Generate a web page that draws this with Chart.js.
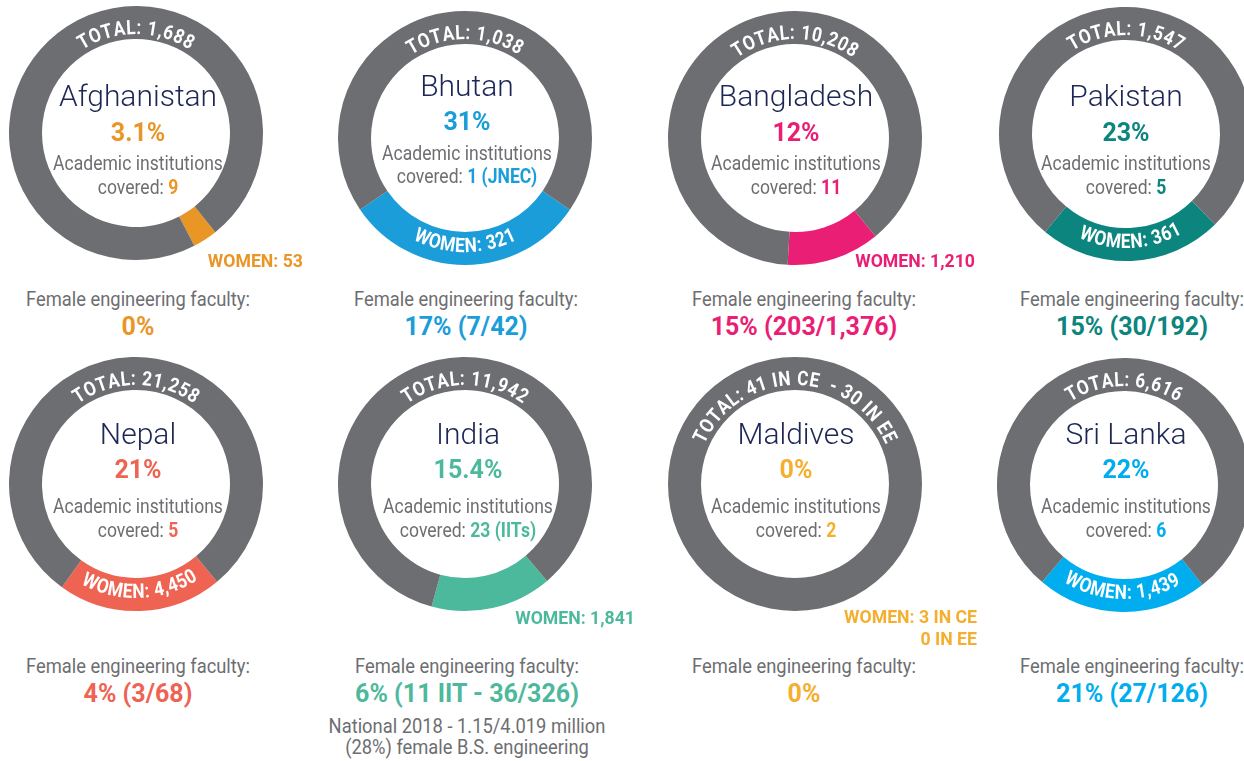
<!DOCTYPE html>
<html>
<head>
<meta charset="utf-8">
<script src="https://cdn.jsdelivr.net/npm/chart.js@4.4.1/dist/chart.umd.min.js"></script>
<style>
html, body { margin: 0; padding: 0; background: #fff; overflow: hidden; }
#page { position: relative; width: 1244px; height: 761px; overflow: hidden; font-family: Roboto, sans-serif; }
#page canvas { position: absolute; }
.t { position: absolute; white-space: nowrap; line-height: 1; transform: translate(-50%, -50%); }
.name { font-size: 30px; font-weight: 300; color: #1d2756; }
.pct { font-size: 25px; font-weight: 700; }
.grey { font-size: 19.5px; color: #6d6e71; transform: translate(-50%, -50%) scaleX(0.9); }
.grey b { font-weight: 700; }
.foot { font-size: 19.5px; color: #6d6e71; transform: translate(-50%, -50%) scaleX(0.94); }
.val { font-size: 25px; font-weight: 700; }
.lab { font-size: 19px; font-weight: 700; transform: translate(-100%, -50%) scaleX(0.93); transform-origin: right center; }
</style>
</head>
<body>
<div id="page"></div>
<script>
// data
const countries = ['Afghanistan', 'Bhutan', 'Bangladesh', 'Pakistan', 'Nepal', 'India', 'Maldives', 'Sri Lanka'];
const totals = [1688, 1038, 10208, 1547, 21258, 11942, 71, 6616];
const women = [53, 321, 1210, 361, 4450, 1841, 0, 1439];
const totalLabels = ['TOTAL: 1,688', 'TOTAL: 1,038', 'TOTAL: 10,208', 'TOTAL: 1,547', 'TOTAL: 21,258', 'TOTAL: 11,942', 'TOTAL: 41 IN CE  - 30 IN EE', 'TOTAL: 6,616'];
const womenLabels = ['WOMEN: 53', 'WOMEN: 321', 'WOMEN: 1,210', 'WOMEN: 361', 'WOMEN: 4,450', 'WOMEN: 1,841', 'WOMEN: 3 IN CE|0 IN EE', 'WOMEN: 1,439'];
const womenShare = ['3.1%', '31%', '12%', '23%', '21%', '15.4%', '0%', '22%'];
const institutions = ['9', '1 (JNEC)', '11', '5', '5', '23 (IITs)', '2', '6'];
const faculty = ['0%', '17% (7/42)', '15% (203/1,376)', '15% (30/192)', '4% (3/68)', '6% (11 IIT - 36/326)', '0%', '21% (27/126)'];
const indiaNote = ['National 2018 - 1.15/4.019 million', '(28%) female B.S. engineering'];

// styling / layout
const accent = ['#ea9627', '#1b9dd9', '#e91e74', '#0b857e', '#ee6352', '#4db99c', '#f5ae2e', '#00adee'];
const ringGrey = '#6d6e71';
const ringX = [136, 465, 795, 1126, 136, 465, 795, 1124];
const ringY = [133, 138, 138, 134, 484, 484, 484, 485];
const segMid = [57, 90, 72, 87.5, 88, 77.5, 90, 91];
const onRing = [false, true, false, true, true, false, false, true];
const innerX = [138, 467, 796, 1126, 138, 468, 796, 1126];
const innerY = [[96, 132, 164, 188], [86, 121, 154, 177], [96, 132, 164, 188], [96, 132, 164, 188],
                [434, 469, 507, 531], [434, 469, 507, 531], [434, 469, 507, 531], [434, 469, 507, 531]];
const footX = [138, 466, 804, 1132, 138, 467, 804, 1132];
const footY = [300, 300, 300, 300, 667, 667, 667, 667];
const labelPos = { 0: [303, 260], 2: [975, 260], 5: [635, 617], 6: [977, 616] };

const page = document.getElementById('page');

function addText(x, y, cls, html, color) {
    const d = document.createElement('div');
    d.className = 't ' + cls;
    d.style.left = x + 'px';
    d.style.top = y + 'px';
    if (color) d.style.color = color;
    d.innerHTML = html;
    page.appendChild(d);
}

// letters placed one by one along the ring, squeezed a little like a condensed face
function curve(ctx, cx, cy, r, text, center, under) {
    const sx = 0.86, track = 0.6;
    const chars = [...text];
    const widths = chars.map(c => ctx.measureText(c).width * sx + track);
    const total = widths.reduce((a, b) => a + b, 0) - track;
    let pos = -total / 2;
    ctx.textAlign = 'center';
    ctx.textBaseline = 'alphabetic';
    chars.forEach((c, i) => {
        const off = (pos + (widths[i] - track) / 2) / r;
        const a = under ? center - off : center + off;
        ctx.save();
        ctx.translate(cx + r * Math.cos(a), cy + r * Math.sin(a));
        ctx.rotate(under ? a - Math.PI / 2 : a + Math.PI / 2);
        ctx.scale(sx, 1);
        ctx.fillText(c, 0, 0);
        ctx.restore();
        pos += widths[i];
    });
}

const ringText = {
    id: 'ringText',
    afterDatasetsDraw(chart, args, opts) {
        const arc = chart.getDatasetMeta(0).data[0];
        const { x, y, innerRadius } = arc.getProps(['x', 'y', 'innerRadius'], true);
        const ctx = chart.ctx;
        ctx.save();
        ctx.font = 'bold 20px Roboto';
        ctx.fillStyle = '#fff';
        curve(ctx, x, y, innerRadius + 5, opts.top, -Math.PI / 2, false);
        if (opts.bottom) curve(ctx, x, y, innerRadius + 20, opts.bottom, opts.bottomAngle, true);
        ctx.restore();
    }
};

countries.forEach((name, i) => {
    const size = 264;
    const canvas = document.createElement('canvas');
    canvas.width = size;
    canvas.height = size;
    canvas.style.left = (ringX[i] - size / 2) + 'px';
    canvas.style.top = (ringY[i] - size / 2) + 'px';
    page.appendChild(canvas);

    const frac = women[i] / totals[i];
    new Chart(canvas.getContext('2d'), {
        type: 'doughnut',
        data: {
            labels: ['Women', 'Men'],
            datasets: [{
                data: [women[i], totals[i] - women[i]],
                backgroundColor: [accent[i], ringGrey],
                borderWidth: 0,
                hoverOffset: 0
            }]
        },
        options: {
            responsive: false,
            animation: false,
            devicePixelRatio: 1,
            cutout: '74%',
            rotation: segMid[i] + 90 - frac * 180,
            layout: { padding: 5 },
            events: [],
            plugins: {
                legend: { display: false },
                tooltip: { enabled: false },
                ringText: {
                    top: totalLabels[i],
                    bottom: onRing[i] ? womenLabels[i] : null,
                    bottomAngle: segMid[i] * Math.PI / 180
                }
            }
        },
        plugins: [ringText]
    });

    const c = accent[i];
    const iy = innerY[i];
    addText(innerX[i], iy[0], 'name', name);
    addText(innerX[i], iy[1], 'pct', womenShare[i], c);
    addText(innerX[i], iy[2], 'grey', 'Academic institutions');
    addText(innerX[i], iy[3], 'grey', 'covered: <b style="color:' + c + '">' + institutions[i] + '</b>');
    addText(footX[i], footY[i], 'foot', 'Female engineering faculty:');
    addText(footX[i], footY[i] + 26, 'val', faculty[i], c);

    if (!onRing[i]) {
        const p = labelPos[i];
        womenLabels[i].split('|').forEach((line, k) => addText(p[0], p[1] + k * 22, 'lab', line, c));
    }
    if (name === 'India') {
        addText(footX[i], 727, 'foot', indiaNote[0]);
        addText(footX[i], 748, 'foot', indiaNote[1]);
    }
});
</script>
</body>
</html>
